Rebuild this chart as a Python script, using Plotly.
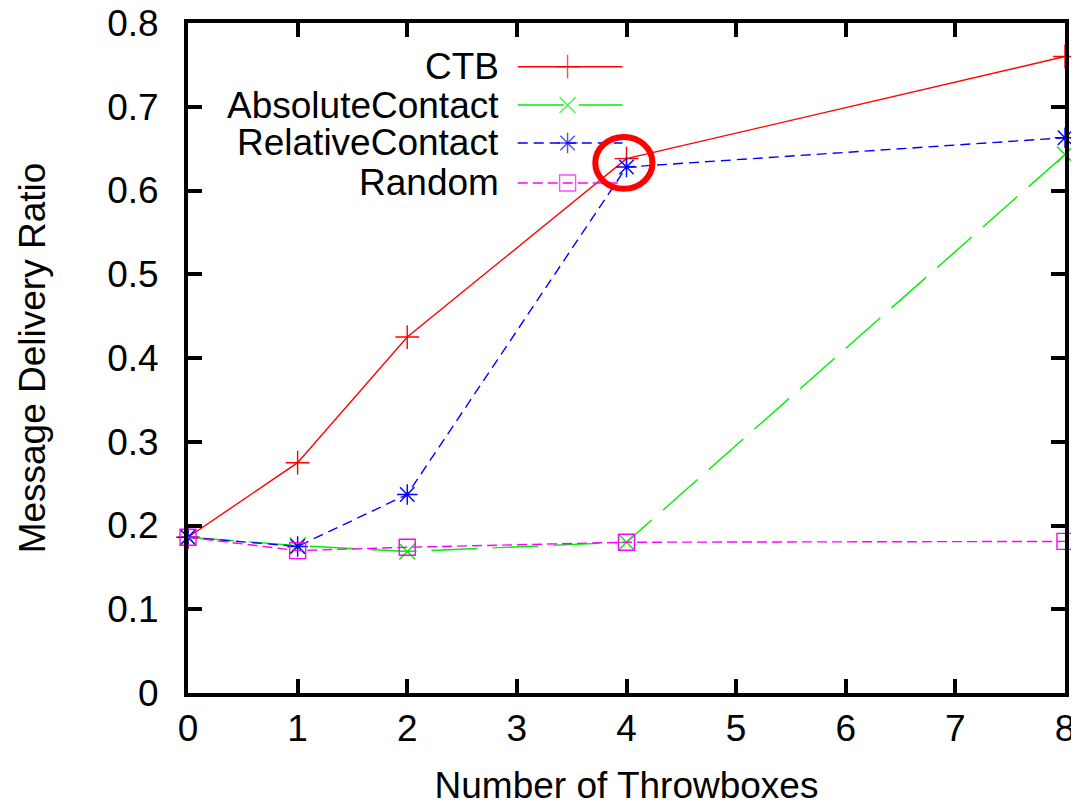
import plotly.graph_objects as go

# ---- data ----
throwboxes = [0, 1, 2, 4, 8]
ctb = [0.186, 0.275, 0.425, 0.638, 0.760]
absolute_contact = [0.186, 0.176, 0.169, 0.180, 0.643]
relative_contact = [0.186, 0.175, 0.237, 0.628, 0.663]
random_series = [0.186, 0.170, 0.174, 0.180, 0.181]

series_names = ["CTB", "AbsoluteContact", "RelativeContact", "Random"]
x_ticks = [0, 1, 2, 3, 4, 5, 6, 7, 8]
y_ticks = [0, 0.1, 0.2, 0.3, 0.4, 0.5, 0.6, 0.7, 0.8]
y_tick_labels = ["0", "0.1", "0.2", "0.3", "0.4", "0.5", "0.6", "0.7", "0.8"]

# ---- styles ----
FONT = "Liberation Sans, Arial, sans-serif"
FS = 37
styles = [
    dict(color="#ff0000", dash="solid", symbol="cross-thin", size=17),
    dict(color="#00ee00", dash="46px,15px", symbol="x-thin", size=16),
    dict(color="#0000ff", dash="10px,6px", symbol="asterisk", size=17),
    dict(color="#ff00ff", dash="10px,5px", symbol="square-open", size=16),
]
all_values = [ctb, absolute_contact, relative_contact, random_series]

fig = go.Figure()
for name, vals, st in zip(series_names, all_values, styles):
    fig.add_trace(go.Scatter(
        x=throwboxes, y=vals, name=name, mode="lines+markers",
        line=dict(color=st["color"], width=1.4, dash=st["dash"]),
        marker=dict(symbol=st["symbol"], size=st["size"], color=st["color"],
                    line=dict(color=st["color"], width=1.4)),
        cliponaxis=False, showlegend=False,
    ))

# ---- custom legend (text left of sample, like gnuplot) ----
leg_text_right = 0.3565
leg_line_x0, leg_marker_x, leg_line_x1 = 0.376, 0.4328, 0.4954
leg_rows = [0.9348, 0.8776, 0.8209, 0.7612]
for name, st, ry in zip(series_names, styles, leg_rows):
    fig.add_trace(go.Scatter(
        x=[leg_line_x0, leg_marker_x, leg_line_x1], y=[ry, ry, ry],
        xaxis="x2", yaxis="y2", mode="lines+markers", showlegend=False,
        hoverinfo="skip",
        line=dict(color=st["color"], width=1.4, dash=st["dash"]),
        marker=dict(symbol=st["symbol"], size=[0, st["size"], 0], color=st["color"],
                    line=dict(color=st["color"], width=1.4)),
    ))
    fig.add_annotation(x=leg_text_right, y=ry, xref="paper", yref="paper",
                       text=name, showarrow=False, xanchor="right", yanchor="middle",
                       font=dict(family=FONT, size=FS, color="black"))

# ---- highlight circle around the x=4 crossing ----
hl_x, hl_y = throwboxes[3], ctb[3]
fig.add_shape(type="circle", xref="x", yref="y",
              x0=hl_x - 0.285, x1=hl_x + 0.237, y0=hl_y - 0.036, y1=hl_y + 0.026,
              line=dict(color="#ff0000", width=6))

axis_common = dict(
    showline=True, linecolor="black", linewidth=4, mirror="allticks",
    ticks="inside", ticklen=14, tickwidth=4, tickcolor="black",
    showgrid=False, zeroline=False, automargin=False,
    ticklabeloverflow="allow",
    tickfont=dict(family=FONT, size=FS, color="black"),
)

# page body has an 8px default margin, so the figure is sized/offset for it
fig.update_layout(
    width=1071, height=798,
    margin=dict(l=180, r=14, t=15, b=113),
    paper_bgcolor="white", plot_bgcolor="white",
    font=dict(family=FONT, size=FS, color="black"),
    xaxis=dict(range=[0, 8], tickvals=x_ticks, ticklabelstandoff=0,
               title=dict(text="Number of Throwboxes", standoff=36,
                          font=dict(family=FONT, size=FS, color="black")),
               **axis_common),
    yaxis=dict(range=[0, 0.8], tickvals=y_ticks, ticktext=y_tick_labels,
               ticklabelstandoff=18,
               title=dict(text="Message Delivery Ratio", standoff=51,
                          font=dict(family=FONT, size=FS, color="black")),
               **axis_common),
    xaxis2=dict(range=[0, 1], overlaying="x", visible=False, fixedrange=True),
    yaxis2=dict(range=[0, 1], overlaying="y", visible=False, fixedrange=True),
)

fig.write_html("out.html")
